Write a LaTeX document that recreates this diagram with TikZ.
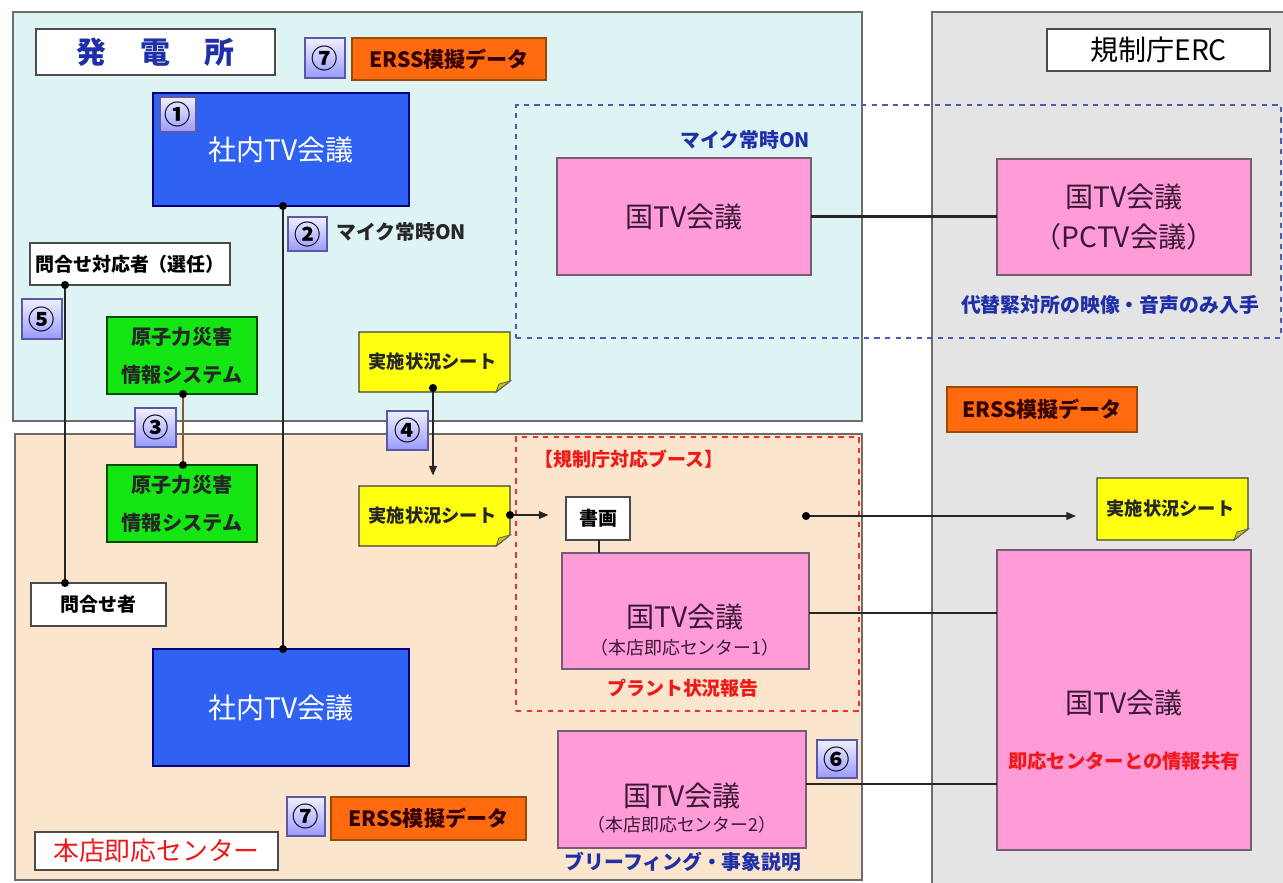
\documentclass[tikz,border=0pt]{standalone}
\usepackage{fontspec}
\setmainfont{Noto Sans CJK JP}
\usetikzlibrary{calc,arrows.meta}
\definecolor{cyanbg}{HTML}{DEF3F4}
\definecolor{peachbg}{HTML}{FCE5CD}
\definecolor{graybg}{HTML}{E4E4E4}
\definecolor{tvblue}{HTML}{2F62F2}
\definecolor{tvgreen}{HTML}{14E614}
\definecolor{notey}{HTML}{FFFF10}
\definecolor{notefoldc}{HTML}{C9C900}
\definecolor{pinkc}{HTML}{FF9BD6}
\definecolor{ersso}{HTML}{FF6A0E}
\definecolor{darkblue}{HTML}{1F2FA8}
\definecolor{redc}{HTML}{F01818}
\definecolor{pinktext}{HTML}{3A1838}
\newcommand\fsz[2]{\fontsize{#1}{#2}\selectfont}
\begin{document}
\begin{tikzpicture}[x=0.02cm,y=-0.02cm,
  rect/.style args={#1,#2,#3,#4}{at={({(#1+#3)/2},{(#2+#4)/2})},minimum width={(#3-#1)*0.02cm},minimum height={(#4-#2)*0.02cm}},
  box/.style={rectangle,inner sep=0pt,outer sep=0pt,line width=0.8pt},
  panel/.style={box,draw=gray!85!black,line width=1pt},
  titlebox/.style={box,draw=gray!60!black,fill=white,line width=1pt},
  badge/.style={box,draw=blue!30!gray,top color=blue!6,bottom color=blue!40,font=\bfseries\fsz{15pt}{17pt}},
  ersbox/.style={box,draw=orange!60!black,fill=ersso,text=black!80!red,font=\bfseries\fsz{12pt}{14pt}},
  bluebox/.style={box,draw=blue!50!black,fill=tvblue,text=white,font=\fsz{16pt}{19pt}},
  greenbox/.style={box,draw=green!30!black,fill=tvgreen,text=black!85,font=\bfseries\fsz{11.5pt}{21.5pt},align=center},
  pinkbox/.style={box,draw=pinktext!70,fill=pinkc,text=pinktext,font=\fsz{16pt}{22.5pt},align=center},
  whitebox/.style={box,draw=black!70,fill=white,font=\bfseries\fsz{10.8pt}{13pt}},
  notebox/.style={box},
  notefill/.style={fill=notey,draw=black!75,line width=0.8pt},
  notefold/.style={fill=notefoldc,draw=black!60,line width=0.5pt},
  notetext/.style={font=\bfseries\fsz{10.4pt}{12pt},text=black!85},
  dotn/.style={circle,fill=black,inner sep=0pt,minimum size=4.6pt},
  conn/.style={line width=1pt,draw=black!85},
  arr/.style={conn,-{Triangle[length=5.5pt,width=4.5pt]}},
  lbl/.style={inner sep=0pt,font=\bfseries\fsz{11.3pt}{13pt}}]
\useasboundingbox (0,0) rectangle (1283,882);
\fill[white] (0,0) rectangle (1283,882);
% panels
\node[panel,fill=cyanbg,rect={13,12,862,421}] (p1) {};
\node[panel,fill=peachbg,rect={15,434,862,880}] (p2) {};
\node[panel,fill=graybg,rect={932,12,1290,890}] (p3) {};
% dashed groups
\node[box,draw=darkblue!80,dashed,line width=0.9pt,rect={516,105,1281,338}] (gblue) {};
\node[box,draw=redc!90,dashed,line width=0.9pt,rect={516,437,859,711}] (gred) {};
% titles
\node[titlebox,text=darkblue,font=\bfseries\fsz{17pt}{20pt},rect={36,29,275,75}] (tp1) {発\hspace{1.15em}電\hspace{1.15em}所};
\node[titlebox,text=black,font=\fsz{16pt}{19pt},rect={1047,29,1270,71}] (terc) {規制庁ERC};
\node[titlebox,text=redc,font=\fsz{14.7pt}{17pt},rect={35,832,278,870}] (thq) {本店即応センター};
% ERSS boxes
\node[ersbox,rect={352,38,546,80}] (e1) {ERSS模擬データ};
\node[ersbox,rect={947,387,1137,432}] (e2) {ERSS模擬データ};
\node[ersbox,rect={331,797,526,840}] (e3) {ERSS模擬データ};
% blue TV boxes
\node[bluebox,rect={153,93,409,206}] (sa1) {\raisebox{-3pt}{社内TV会議}};
\node[bluebox,rect={153,649,409,766}] (sa2) {\raisebox{-3pt}{社内TV会議}};
% green boxes
\node[greenbox,rect={107,317,257,394}] (g1) {原子力災害\\情報システム};
\node[greenbox,rect={107,465,257,542}] (g2) {原子力災害\\情報システム};
% white boxes
\node[whitebox,rect={30,243,230,285}] (q1) {問合せ対応者（選任）};
\node[whitebox,rect={31,583,166,626}] (q2) {問合せ者};
\node[whitebox,rect={566,497,630,540}] (sho) {書画};
% pink boxes
\node[pinkbox,rect={557,158,811,275}] (k1) {国TV会議};
\node[pinkbox,rect={997,159,1251,275}] (k2) {国TV会議\\（PCTV会議）};
\node[pinkbox,rect={562,553,809,669}] (k3) {};
\node[pinkbox,rect={558,731,806,848}] (k4) {};
\node[pinkbox,rect={997,550,1251,850}] (k5) {};
\node[inner sep=0pt,text=pinktext,font=\fsz{16pt}{19pt}] (k3a) at (685,617) {国TV会議};
\node[inner sep=0pt,text=pinktext,font=\fsz{10.2pt}{12pt}] (k3b) at (685,648) {（本店即応センター1）};
\node[inner sep=0pt,text=pinktext,font=\fsz{16pt}{19pt}] (k4a) at (682,796) {国TV会議};
\node[inner sep=0pt,text=pinktext,font=\fsz{10.2pt}{12pt}] (k4b) at (682,825) {（本店即応センター2）};
\node[inner sep=0pt,text=pinktext,font=\fsz{16pt}{19pt}] (k5a) at (1124,703) {国TV会議};
\node[lbl,text=redc,font=\bfseries\fsz{11pt}{13pt}] (k5b) at (1124,761) {即応センターとの情報共有};
% yellow notes
\foreach \n/\xa/\ya/\xb/\yb in {n1/359/332/510/392, n2/359/486/510/546, n3/1097/478/1248/540}{
  \node[notebox,rect={\xa,\ya,\xb,\yb}] (\n) {};
  \path[notefill] (\n.north west) -- (\n.north east) -- ($(\n.south east)+(0,-11)$) -- ($(\n.south east)+(-14,0)$) -- (\n.south west) -- cycle;
  \path[notefold] ($(\n.south east)+(0,-11)$) -- ($(\n.south east)+(-14,0)$) -- ($(\n.south east)+(-11,-8)$) -- cycle;
  \node[notetext] (\n t) at ($(\n.center)+(-2,0)$) {実施状況シート};
}
% badges
\node[badge,rect={305,38,345,78}] (b7a) {⑦};
\node[badge,rect={160,97,196,132}] (b1) {①};
\node[badge,rect={288,217,327,251}] (b2) {②};
\node[badge,rect={22,299,62,339}] (b5) {⑤};
\node[badge,rect={135,408,176,447}] (b3) {③};
\node[badge,rect={387,411,428,450}] (b4) {④};
\node[badge,rect={817,740,857,778}] (b6) {⑥};
\node[badge,rect={287,797,325,836}] (b7b) {⑦};
% labels
\node[lbl,anchor=west,text=black!85] (l2) at (336,232) {マイク常時ON};
\node[lbl,text=darkblue] (lmic) at (745,140) {マイク常時ON};
\node[lbl,text=darkblue] (lalt) at (1110,305) {代替緊対所の映像・音声のみ入手};
\node[lbl,anchor=west,text=redc,font=\bfseries\fsz{10.8pt}{13pt}] (lbooth) at (534,459) {【規制庁対応ブース】};
\node[lbl,text=redc,font=\bfseries\fsz{10.8pt}{13pt}] (lplant) at (683,688) {プラント状況報告};
\node[lbl,text=darkblue] (lbrief) at (683,862) {ブリーフィング・事象説明};
% connectors
\coordinate (c1) at ($(sa1.south)+(2,0)$);
\coordinate (c2) at ($(sa2.north)+(2,0)$);
\draw[conn,line width=1.2pt] (c1) -- (c2);
\node[dotn] (dc1) at (c1) {};
\node[dotn] (dc2) at (c2) {};
\coordinate (q1b) at (q1.south -| 65,0);
\coordinate (q2t) at (q2.north -| 65,0);
\draw[conn,line width=0.8pt] (q1b) -- (q2t);
\node[dotn] (dq1) at (q1b) {};
\node[dotn] (dq2) at (q2t) {};
\coordinate (g1b) at (g1.south -| 183,0);
\coordinate (g2t) at (g2.north -| 183,0);
\draw[conn,line width=0.8pt,draw=brown!70!black] (g1b) -- (g2t);
\node[dotn] (dg1) at (g1b) {};
\node[dotn] (dg2) at (g2t) {};
\coordinate (n1b) at ($(n1.south -| 433,0)+(0,-4)$);
\draw[arr,line width=0.8pt,shorten >=6pt] (n1b) -- (n2.north -| 433,0);
\node[dotn] (dn1) at (n1b) {};
\coordinate (n2r) at ($(n2.east)+(0,-1)$);
\draw[arr,line width=0.8pt,shorten >=10pt] (n2r) -- (sho.west |- n2r);
\node[dotn] (dn2) at (n2r) {};
\draw[conn,line width=0.7pt] (sho.south -| 599,0) -- (k3.north -| 599,0);
\coordinate (dr) at (806,516);
\draw[arr,line width=0.8pt,shorten >=12pt] (dr) -- (n3.west |- dr);
\node[dotn] (ddr) at (dr) {};
\draw[conn,line width=1.2pt] (k1.east) -- (k2.west |- k1.east);
\draw[conn,line width=1.2pt] ($(k3.east)+(0,2)$) -- (k5.west |- {$(k3.east)+(0,2)$});
\draw[conn,line width=1.2pt] (k4.east |- 0,784) -- (k5.west |- 0,784);
\end{tikzpicture}
\end{document}
